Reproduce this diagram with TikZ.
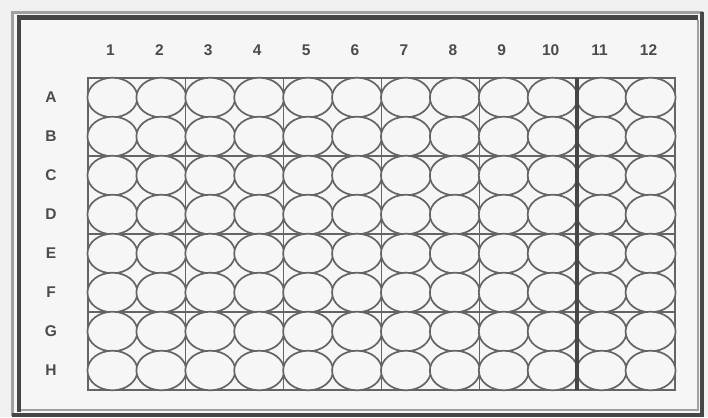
\documentclass[tikz,border=0pt]{standalone}
\usepackage{fontspec}
\setmainfont{Liberation Sans}
\definecolor{bgc}{RGB}{246,246,246}
\definecolor{pagec}{RGB}{240,240,240}
\definecolor{framelight}{RGB}{160,160,160}
\definecolor{framedark}{RGB}{70,70,70}
\definecolor{wellline}{RGB}{100,100,100}
\definecolor{labelc}{RGB}{75,75,75}
\tikzset{
  lbl/.style={text=labelc, font=\fontsize{15.5}{15.5}\selectfont\bfseries, inner sep=0pt, anchor=center},
  well/.style={draw=wellline, line width=1.7pt, fill=bgc},
  gridline/.style={draw=wellline, line width=1.1pt},
  thickline/.style={draw=framedark, line width=4.5pt}
}
\begin{document}
\begin{tikzpicture}[x=1pt,y=-1pt]
\useasboundingbox (0,0) rectangle (708,417);
\fill[pagec] (0,0) rectangle (708,417);
% frame
\fill[bgc] (14,14) rectangle (700,413);
\draw[framelight, line width=3pt] (12.5,12.5) rectangle (701.5,414.5);
\draw[framedark, line width=4.5pt] (19,412) -- (19,17.5) -- (698,17.5);
\draw[framedark, line width=4pt] (12,415) -- (702,415) -- (702,12);
\draw[framelight, line width=1.5pt] (21,410) -- (698,410) -- (698,20);
% grid
\def\cw{48.9167}
\def\rh{39}
\draw[gridline] (88,78) rectangle (675,390);
\foreach \k in {2,4,6,8} { \draw[gridline] ({88+\k*\cw},78) -- ({88+\k*\cw},390); }
\foreach \k in {2,4,6} { \draw[gridline] (88,{78+\k*\rh}) -- (675,{78+\k*\rh}); }
% wells
\foreach \i in {1,...,12} {
  \foreach \j in {1,...,8} {
    \draw[well] ({88+(\i-0.5)*\cw},{78+(\j-0.5)*\rh}) ellipse [x radius=25, y radius=19.8];
  }
}
\draw[thickline] (577,78) -- (577,390);
% column labels
\foreach \i in {1,...,12} {
  \node[lbl] (c\i) at ({88+(\i-0.5)*\cw-2},50) {\i};
}
% row labels
\foreach \r [count=\j] in {A,B,C,D,E,F,G,H} {
  \node[lbl] (r\r) at (51,{78+(\j-0.5)*\rh}) {\r};
}
\end{tikzpicture}
\end{document}
